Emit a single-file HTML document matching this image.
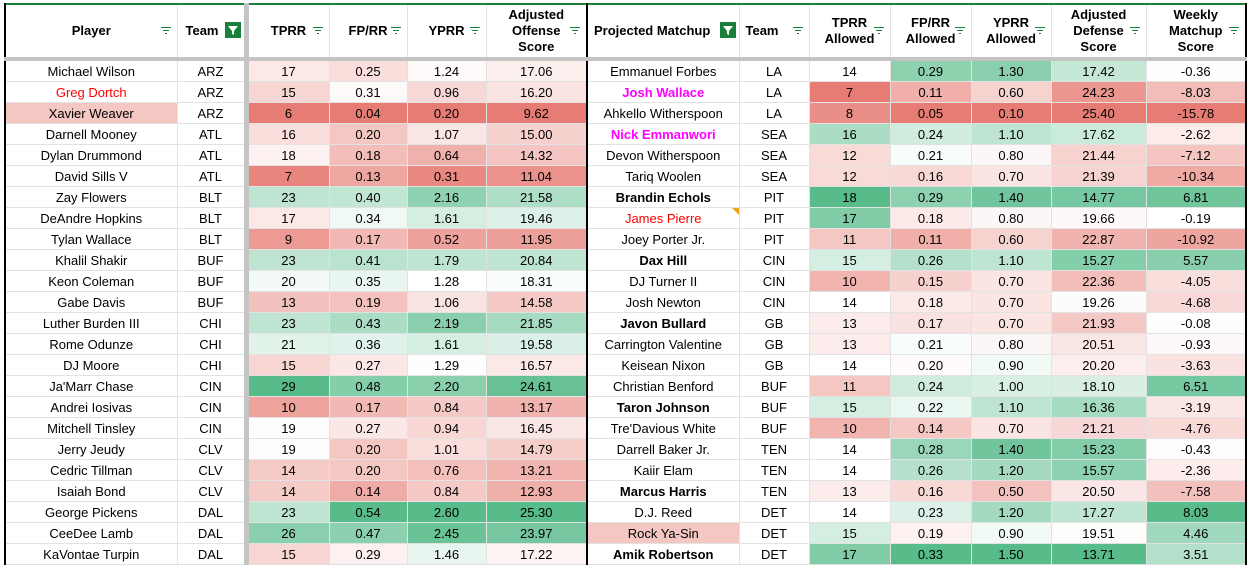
<!DOCTYPE html>
<html><head><meta charset="utf-8"><style>
body{margin:0;width:1251px;height:564px;overflow:hidden;background:#fff;font-family:"Liberation Sans",Arial,sans-serif;position:relative}
table{position:absolute;left:4px;top:3px;border-collapse:collapse;table-layout:fixed}
td,th{font-size:13px;text-align:center;padding:0;border:1px solid #e2e2e2;white-space:nowrap;overflow:hidden;color:#000}
th{height:52px;font-weight:bold;line-height:16px;position:relative;border-bottom:4px solid #c4c4c4}
td{height:20px}
.f{position:absolute;right:6px;top:22px;width:10px;height:8px}
.f i{display:block;height:1px;background:#188038;margin:0 auto 2px}
.fa{position:absolute;right:3px;top:17px;width:16px;height:16px;background:#188038}
.sep{border-left:5px solid #c4c4c4}
.br{border-right:2px solid #000}
.mg{color:#ff00ff;font-weight:bold}
.rd{color:#ff0000}
.b{font-weight:bold}
</style></head><body>
<table id="t">
<colgroup><col style="width:172px"><col style="width:69px"><col style="width:83px"><col style="width:78px"><col style="width:79px"><col style="width:101px"><col style="width:152px"><col style="width:70px"><col style="width:81px"><col style="width:81px"><col style="width:80px"><col style="width:95px"><col style="width:100px"></colgroup>
<thead><tr style="border-top:2px solid #188038">
<th style="border-left:2px solid #000">Player<span class="f"><i style="width:10px"></i><i style="width:6px"></i><i style="width:2px"></i></span></th>
<th style="text-align:left;padding-left:8px">Team<span class="fa"><svg width="16" height="16"><path d="M3 4h10l-4 5v4l-2 -1v-3z" fill="#fff"/></svg></span></th>
<th class="sep">TPRR<span class="f"><i style="width:10px"></i><i style="width:6px"></i><i style="width:2px"></i></span></th>
<th>FP/RR<span class="f"><i style="width:10px"></i><i style="width:6px"></i><i style="width:2px"></i></span></th>
<th>YPRR<span class="f"><i style="width:10px"></i><i style="width:6px"></i><i style="width:2px"></i></span></th>
<th class="br">Adjusted<br>Offense<br>Score<span class="f"><i style="width:10px"></i><i style="width:6px"></i><i style="width:2px"></i></span></th>
<th style="text-align:left;padding-left:6px">Projected Matchup<span class="fa"><svg width="16" height="16"><path d="M3 4h10l-4 5v4l-2 -1v-3z" fill="#fff"/></svg></span></th>
<th style="text-align:left;padding-left:6px">Team<span class="f"><i style="width:10px"></i><i style="width:6px"></i><i style="width:2px"></i></span></th>
<th>TPRR<br>Allowed<span class="f"><i style="width:10px"></i><i style="width:6px"></i><i style="width:2px"></i></span></th>
<th>FP/RR<br>Allowed<span class="f"><i style="width:10px"></i><i style="width:6px"></i><i style="width:2px"></i></span></th>
<th>YPRR<br>Allowed<span class="f"><i style="width:10px"></i><i style="width:6px"></i><i style="width:2px"></i></span></th>
<th>Adjusted<br>Defense<br>Score<span class="f"><i style="width:10px"></i><i style="width:6px"></i><i style="width:2px"></i></span></th>
<th class="br">Weekly<br>Matchup<br>Score<span class="f"><i style="width:10px"></i><i style="width:6px"></i><i style="width:2px"></i></span></th>
</tr></thead><tbody id="b"></tbody></table>
<script>
const D=`Michael Wilson|ARZ|17|0.25|1.24|17.06|Emmanuel Forbes|LA|14|0.29|1.30|17.42|-0.36
Greg Dortch|ARZ|15|0.31|0.96|16.20|Josh Wallace|LA|7|0.11|0.60|24.23|-8.03
Xavier Weaver|ARZ|6|0.04|0.20|9.62|Ahkello Witherspoon|LA|8|0.05|0.10|25.40|-15.78
Darnell Mooney|ATL|16|0.20|1.07|15.00|Nick Emmanwori|SEA|16|0.24|1.10|17.62|-2.62
Dylan Drummond|ATL|18|0.18|0.64|14.32|Devon Witherspoon|SEA|12|0.21|0.80|21.44|-7.12
David Sills V|ATL|7|0.13|0.31|11.04|Tariq Woolen|SEA|12|0.16|0.70|21.39|-10.34
Zay Flowers|BLT|23|0.40|2.16|21.58|Brandin Echols|PIT|18|0.29|1.40|14.77|6.81
DeAndre Hopkins|BLT|17|0.34|1.61|19.46|James Pierre|PIT|17|0.18|0.80|19.66|-0.19
Tylan Wallace|BLT|9|0.17|0.52|11.95|Joey Porter Jr.|PIT|11|0.11|0.60|22.87|-10.92
Khalil Shakir|BUF|23|0.41|1.79|20.84|Dax Hill|CIN|15|0.26|1.10|15.27|5.57
Keon Coleman|BUF|20|0.35|1.28|18.31|DJ Turner II|CIN|10|0.15|0.70|22.36|-4.05
Gabe Davis|BUF|13|0.19|1.06|14.58|Josh Newton|CIN|14|0.18|0.70|19.26|-4.68
Luther Burden III|CHI|23|0.43|2.19|21.85|Javon Bullard|GB|13|0.17|0.70|21.93|-0.08
Rome Odunze|CHI|21|0.36|1.61|19.58|Carrington Valentine|GB|13|0.21|0.80|20.51|-0.93
DJ Moore|CHI|15|0.27|1.29|16.57|Keisean Nixon|GB|14|0.20|0.90|20.20|-3.63
Ja'Marr Chase|CIN|29|0.48|2.20|24.61|Christian Benford|BUF|11|0.24|1.00|18.10|6.51
Andrei Iosivas|CIN|10|0.17|0.84|13.17|Taron Johnson|BUF|15|0.22|1.10|16.36|-3.19
Mitchell Tinsley|CIN|19|0.27|0.94|16.45|Tre'Davious White|BUF|10|0.14|0.70|21.21|-4.76
Jerry Jeudy|CLV|19|0.20|1.01|14.79|Darrell Baker Jr.|TEN|14|0.28|1.40|15.23|-0.43
Cedric Tillman|CLV|14|0.20|0.76|13.21|Kaiir Elam|TEN|14|0.26|1.20|15.57|-2.36
Isaiah Bond|CLV|14|0.14|0.84|12.93|Marcus Harris|TEN|13|0.16|0.50|20.50|-7.58
George Pickens|DAL|23|0.54|2.60|25.30|D.J. Reed|DET|14|0.23|1.20|17.27|8.03
CeeDee Lamb|DAL|26|0.47|2.45|23.97|Rock Ya-Sin|DET|15|0.19|0.90|19.51|4.46
KaVontae Turpin|DAL|15|0.29|1.46|17.22|Amik Robertson|DET|17|0.33|1.50|13.71|3.51`.split('\n').map(r=>r.split('|'));
const cls={"Greg Dortch":"rd","James Pierre":"rd","Josh Wallace":"mg","Nick Emmanwori":"mg","Brandin Echols":"b","Dax Hill":"b","Javon Bullard":"b","Taron Johnson":"b","Marcus Harris":"b","Amik Robertson":"b"};
const R=[230,124,115],G=[87,187,138];
function mix(a,t){return `rgb(${a.map(v=>Math.round(255+(v-255)*t)).join(',')})`}
const cols=[2,3,4,5,8,9,10,11,12],inv={11:1};
const MD={2:19.3,3:0.32,4:1.28,5:18,8:14,9:0.205,10:0.85,11:19.4,12:-0.2};
const col={};
cols.forEach(c=>{const v=D.map(r=>+r[c]);const s=[...v].sort((a,b)=>a-b);const mn=s[0],mx=s[s.length-1];let md=MD[c];
col[c]=v.map(x=>{let hi=inv[c]?x<md:x>md;let t=inv[c]?(x<md?(md-x)/(md-mn):(x-md)/(mx-md)):(x>md?(x-md)/(mx-md):(md-x)/(md-mn));return mix(hi?G:R,Math.min(1,t))})});
let h='';D.forEach((r,i)=>{h+='<tr>';r.forEach((v,c)=>{let st='',cl=cls[v]||'';
if(c==0){st='border-left:2px solid #000;';if(v=='Xavier Weaver')st+='background:#f4c7c3;'}
if(c==6&&v=='Rock Ya-Sin')st+='background:#f4c7c3;';
if(col[c])st+='background:'+col[c][i]+';';
let k=cl;if(c==2)k+=' sep';if(c==5||c==12)k+=' br';
let extra=v=='James Pierre'?'<span style="position:absolute;right:0;top:0;border-top:7px solid #f4a019;border-left:7px solid transparent"></span>':'';
if(extra)st+='position:relative;';
h+=`<td class="${k}" style="${st}">${v}${extra}</td>`});h+='</tr>'});
document.getElementById('b').innerHTML=h;
</script>
</body></html>
